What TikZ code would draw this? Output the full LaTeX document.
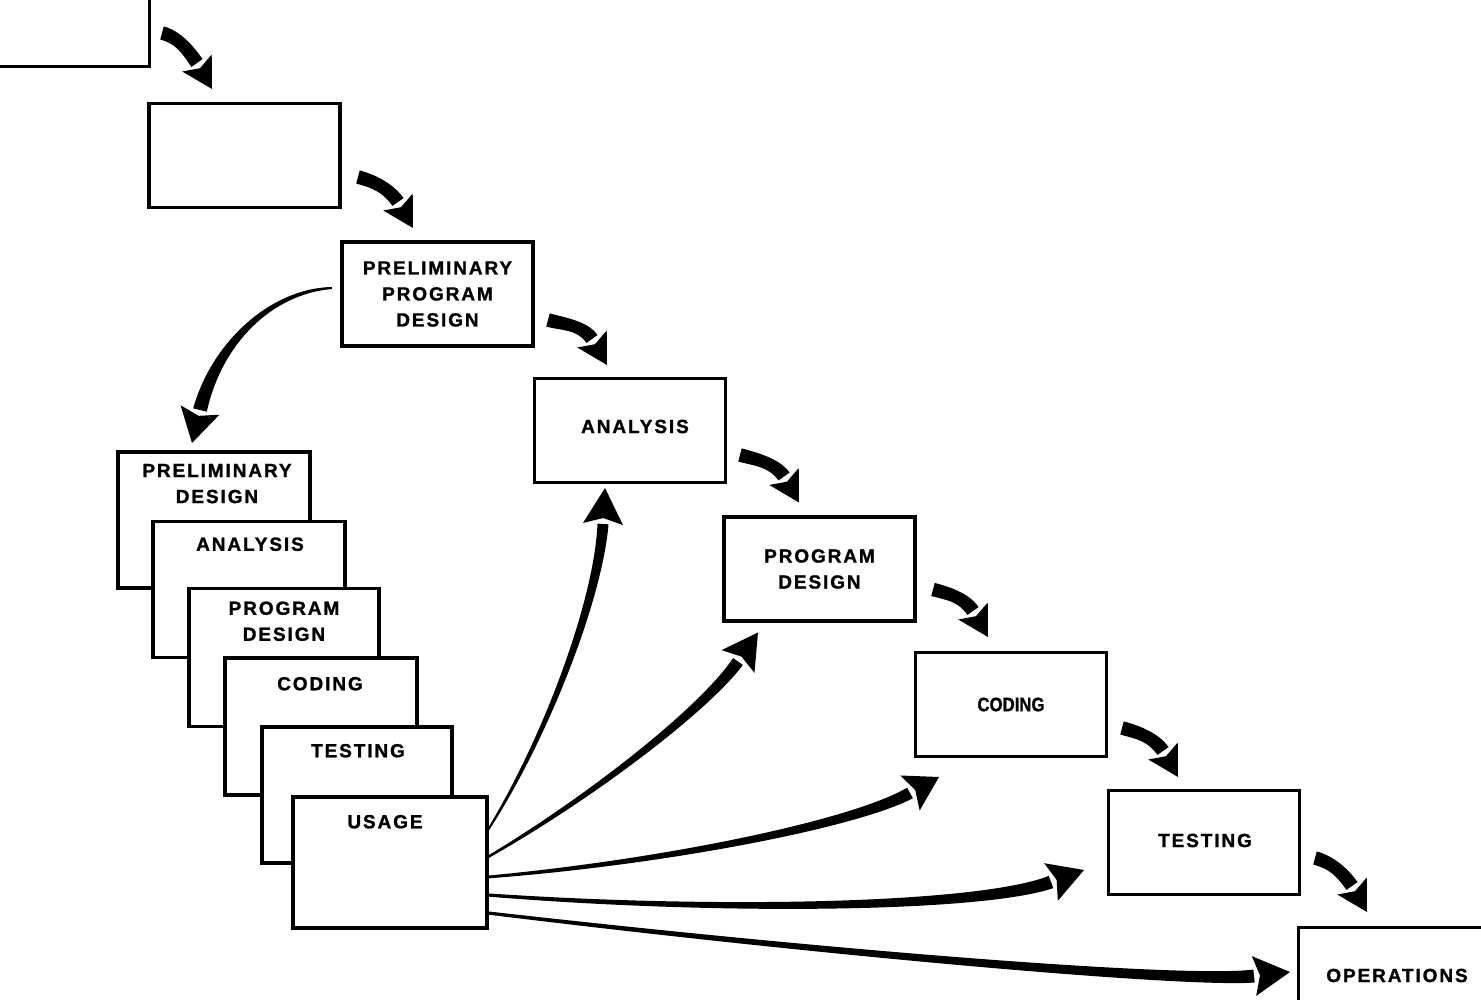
\documentclass[tikz,border=0pt]{standalone}
\usepackage{fontspec}
\newfontfamily\labfont{Liberation Sans Bold}[LetterSpace=10, FakeBold=1.2]
\newfontfamily\labfontc{Liberation Sans Bold}[FakeStretch=0.86, FakeBold=1.0]
\usetikzlibrary{calc}

% tapered filled arrow: S, C1, C2, E (shaft end), T (tip), start half width, end half width, head half width
\newcommand\taperfill[8]{%
  \pgfmathsetmacro\twa{(2*#6+#7)/3}%
  \pgfmathsetmacro\twb{(#6+2*#7)/3}%
  \fill ($(#1)!#6pt!90:(#2)$) .. controls ($(#2)!\twa pt!-90:(#1)$) and ($(#3)!\twb pt!90:(#4)$) .. ($(#4)!#7pt!-90:(#3)$)
     -- ($(#4)!#7pt!90:(#3)$) .. controls ($(#3)!\twb pt!-90:(#4)$) and ($(#2)!\twa pt!90:(#1)$) .. ($(#1)!#6pt!-90:(#2)$) -- cycle;
  \fill ($(#4)!#8pt!90:(#5)$) -- (#5) -- ($(#4)!#8pt!-90:(#5)$) -- ($(#4)!6pt!(#5)$) -- cycle;
}
% short thick step arrow between two waterfall boxes
\newcommand\steparrow[6]{%
  \coordinate (s-#1) at ($(#1.south east)+(#3,#4)$);
  \coordinate (t-#2) at ($(#2.north west)+(#5,#6)$);
  \coordinate (e-#2) at ($(t-#2)+(-15,-26)$);
  \coordinate (a-#1) at ($(s-#1)+(16.4,4.4)$);
  \coordinate (b-#2) at ($(e-#2)+(-9.8,-13.9)$);
  \taperfill{s-#1}{a-#1}{b-#2}{e-#2}{t-#2}{6.8}{6.8}{17}%
}

\tikzset{
  labtext/.style={font=\labfont\fontsize{19}{26}\selectfont},
  wbox/.style={draw, line width=3.8pt, fill=white, minimum width=191pt, minimum height=104pt,
    inner sep=0pt, outer sep=0pt, align=center, labtext},
  sbox/.style={wbox, minimum width=192pt, minimum height=136pt},
  lab/.style={inner sep=0pt, outer sep=0pt, anchor=north, align=center, labtext}
}

\begin{document}
\begin{tikzpicture}[x=1pt, y=-1pt]
\useasboundingbox (0,0) rectangle (1481,1000);
\fill[white] (0,0) rectangle (1481,1000);

% waterfall boxes
\node[wbox] (top0) at (54,14.5) {};
\node[wbox] (box2) at (244.5,155.5) {};
\node[wbox] (ppd) at (437.5,294) {PRELIMINARY\\PROGRAM\\DESIGN};
\node[wbox] (ana) at (630,430.5) {};
\node[labtext, inner sep=0pt] (anat) at ($(ana.center)+(5,-4)$) {ANALYSIS};
\node[wbox] (pdes) at (819.5,569) {PROGRAM\\DESIGN};
\node[wbox, font=\labfontc\fontsize{19.5}{26}\selectfont] (cod) at (1011,704.5) {CODING};
\node[wbox] (tst) at (1204,842.5) {};
\node[labtext, inner sep=0pt] (tstt) at ($(tst.center)+(1,-2)$) {TESTING};
\node[wbox] (ops) at (1394,979.5) {};
\node[labtext, inner sep=0pt] (opst) at ($(ops.center)+(3,-4)$) {OPERATIONS};

% stacked boxes
\node[sbox] (pd1) at (214,520) {};
\node[lab] (pd1t) at ($(pd1.north)+(3,12)$) {PRELIMINARY\\DESIGN};
\node[sbox] (an1) at (249,589.5) {};
\node[lab] (an1t) at ($(an1.north)+(1,16)$) {ANALYSIS};
\node[sbox, minimum width=190pt, minimum height=138pt] (pr1) at (284,657.5) {};
\node[lab] (pr1t) at ($(pr1.north)+(0,13)$) {PROGRAM\\DESIGN};
\node[sbox, minimum height=137pt] (co1) at (321,726.5) {};
\node[lab] (co1t) at ($(co1.north)+(-1,19)$) {CODING};
\node[sbox, minimum width=190pt] (te1) at (357,795) {};
\node[lab] (te1t) at ($(te1.north)+(1,17)$) {TESTING};
\node[sbox, minimum width=194pt, minimum height=131pt] (us1) at (390,862.5) {};
\node[lab] (us1t) at ($(us1.north)+(-5,18)$) {USAGE};

% step arrows
\steparrow{top0}{box2}{12.5}{-33.5}{63}{-14.5}
\steparrow{box2}{ppd}{18}{-30.5}{71}{-14}
\steparrow{ppd}{ana}{15}{-26}{72.5}{-13.5}
\steparrow{ana}{pdes}{14.5}{-27.5}{75}{-14.5}
\steparrow{pdes}{cod}{18}{-31.5}{72.5}{-15.5}
\steparrow{cod}{tst}{15.5}{-28.5}{69.5}{-13.5}
\steparrow{tst}{ops}{15.5}{-36.5}{68.5}{-15.5}

% big arrow from preliminary program design to the stack
\coordinate (bs) at ($(ppd.west)+(-10,-6)$);
\coordinate (bt) at ($(pd1.north west)+(74,-9)$);
\coordinate (be) at ($(bt)+(8,-33)$);
\coordinate (ba) at ($(bs)+(-60,3)$);
\coordinate (bb) at ($(be)+(17,-68)$);
\taperfill{bs}{ba}{bb}{be}{bt}{1}{7}{20}

% feedback arrows from usage
\coordinate (f1s) at ($(us1.east)+(1,-32.5)$);
\coordinate (f1t) at ($(ana.south)+(-25,5.5)$);
\coordinate (f1e) at ($(f1t)+(-2,36)$);
\coordinate (f1a) at ($(f1s)+(59,-94)$);
\coordinate (f1b) at ($(f1e)+(-4.5,74.6)$);
\taperfill{f1s}{f1a}{f1b}{f1e}{f1t}{1}{5.5}{20}

\coordinate (f2s) at ($(us1.east)+(1,-5.5)$);
\coordinate (f2t) at ($(pdes.south west)+(34,11.5)$);
\coordinate (f2e) at ($(f2t)+(-20,29)$);
\coordinate (f2a) at ($(f2s)+(103,-60)$);
\coordinate (f2b) at ($(f2e)+(-34,48)$);
\taperfill{f2s}{f2a}{f2b}{f2e}{f2t}{1.2}{6}{20}

\coordinate (f3s) at ($(us1.east)+(1,14.5)$);
\coordinate (f3t) at ($(cod.south west)+(23.5,20.5)$);
\coordinate (f3e) at ($(f3t)+(-29,16)$);
\coordinate (f3a) at ($(f3s)+(177,-15)$);
\coordinate (f3b) at ($(f3e)+(-56,31)$);
\taperfill{f3s}{f3a}{f3b}{f3e}{f3t}{1.4}{6}{20}

\coordinate (f4s) at ($(us1.east)+(1,32.5)$);
\coordinate (f4t) at ($(tst.south west)+(-24.5,-24.5)$);
\coordinate (f4e) at ($(f4t)+(-33,12)$);
\coordinate (f4a) at ($(f4s)+(243,18)$);
\coordinate (f4b) at ($(f4e)+(-67,25)$);
\taperfill{f4s}{f4a}{f4b}{f4e}{f4t}{1.6}{6.5}{20}

\coordinate (f5s) at ($(us1.east)+(1,50.5)$);
\coordinate (f5t) at ($(ops.west)+(-8.5,-7.5)$);
\coordinate (f5e) at ($(f5t)+(-36,4)$);
\coordinate (f5a) at ($(f5s)+(356,42)$);
\coordinate (f5b) at ($(f5e)+(-66,7)$);
\taperfill{f5s}{f5a}{f5b}{f5e}{f5t}{1.6}{6.5}{20}
\end{tikzpicture}
\end{document}
